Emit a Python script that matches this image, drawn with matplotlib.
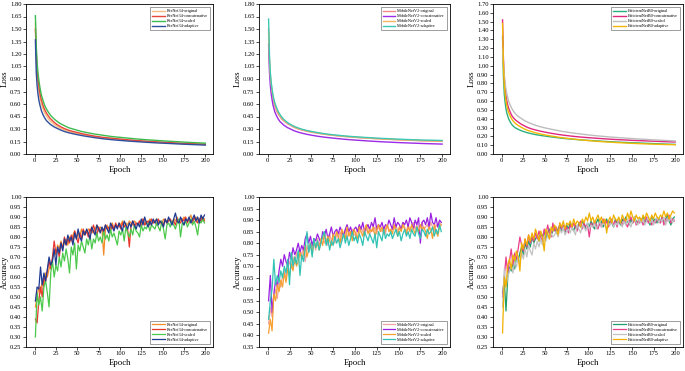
import numpy as np
import matplotlib
matplotlib.use("Agg")
import matplotlib.pyplot as plt

plt.rcParams['font.family'] = ['Liberation Serif', 'DejaVu Serif']

# ---------------- data ----------------
loss_epochs = [1, 2, 3, 4, 5, 6, 7, 8, 10, 12, 14, 16, 18, 20, 23, 26, 30, 35, 40, 45,
               50, 55, 60, 65, 70, 80, 90, 100, 110, 120, 130, 140, 150, 160, 170, 180, 190, 200]
acc_epochs = list(range(1, 200, 2))

labels_resnet = ["ResNet34-original", "ResNet34-concatenative", "ResNet34-scaled", "ResNet34-adaptive"]
labels_mobile = ["MobileNetV2-original", "MobileNetV2-concatenative", "MobileNetV2-scaled", "MobileNetV2-adaptive"]
labels_effnet = ["EfficientNetB0-original", "EfficientNetB0-concatenative", "EfficientNetB0-scaled", "EfficientNetB0-adaptive"]

# ResNet34 loss
resnet_loss_original = [1.57, 1.15, 0.95, 0.84, 0.76, 0.69, 0.64, 0.60, 0.54, 0.49, 0.455, 0.425, 0.40, 0.38, 0.355, 0.335, 0.31, 0.29, 0.27, 0.255,
                        0.245, 0.235, 0.225, 0.215, 0.205, 0.19, 0.18, 0.17, 0.16, 0.155, 0.148, 0.14, 0.135, 0.13, 0.125, 0.12, 0.117, 0.113]
resnet_loss_concat = [1.50, 1.22, 1.03, 0.91, 0.82, 0.75, 0.69, 0.65, 0.58, 0.53, 0.49, 0.46, 0.43, 0.41, 0.38, 0.355, 0.33, 0.305, 0.285, 0.27,
                      0.258, 0.245, 0.235, 0.225, 0.215, 0.20, 0.19, 0.18, 0.17, 0.162, 0.155, 0.148, 0.142, 0.136, 0.13, 0.126, 0.122, 0.118]
resnet_loss_scaled = [1.66, 1.30, 1.10, 0.98, 0.89, 0.82, 0.76, 0.71, 0.64, 0.58, 0.54, 0.505, 0.475, 0.45, 0.42, 0.395, 0.365, 0.34, 0.315, 0.30,
                      0.285, 0.27, 0.26, 0.25, 0.24, 0.225, 0.21, 0.20, 0.19, 0.18, 0.172, 0.165, 0.158, 0.152, 0.146, 0.14, 0.135, 0.13]
resnet_loss_adaptive = [1.37, 0.98, 0.82, 0.72, 0.65, 0.60, 0.56, 0.52, 0.47, 0.43, 0.40, 0.38, 0.36, 0.345, 0.325, 0.31, 0.29, 0.27, 0.255, 0.243,
                        0.232, 0.222, 0.213, 0.205, 0.197, 0.183, 0.172, 0.163, 0.155, 0.148, 0.141, 0.135, 0.13, 0.125, 0.12, 0.115, 0.111, 0.107]

# MobileNetV2 loss
mobile_loss_original = [1.50, 1.10, 0.92, 0.81, 0.73, 0.67, 0.62, 0.58, 0.52, 0.48, 0.45, 0.42, 0.40, 0.385, 0.36, 0.345, 0.32, 0.30, 0.285, 0.272,
                        0.262, 0.253, 0.245, 0.237, 0.23, 0.218, 0.208, 0.20, 0.192, 0.186, 0.18, 0.175, 0.17, 0.166, 0.162, 0.158, 0.155, 0.152]
mobile_loss_concat = [1.32, 0.98, 0.82, 0.72, 0.65, 0.59, 0.55, 0.51, 0.46, 0.42, 0.39, 0.37, 0.35, 0.335, 0.315, 0.30, 0.28, 0.262, 0.248, 0.236,
                      0.226, 0.217, 0.209, 0.202, 0.196, 0.185, 0.175, 0.167, 0.16, 0.153, 0.147, 0.142, 0.137, 0.133, 0.129, 0.125, 0.122, 0.119]
mobile_loss_scaled = [1.45, 1.12, 0.94, 0.83, 0.75, 0.69, 0.64, 0.60, 0.54, 0.495, 0.46, 0.435, 0.41, 0.39, 0.37, 0.35, 0.328, 0.307, 0.29, 0.277,
                      0.266, 0.256, 0.247, 0.239, 0.232, 0.22, 0.21, 0.202, 0.195, 0.188, 0.182, 0.177, 0.172, 0.167, 0.163, 0.159, 0.156, 0.153]
mobile_loss_adaptive = [1.62, 1.18, 0.98, 0.86, 0.78, 0.71, 0.66, 0.62, 0.56, 0.51, 0.475, 0.445, 0.42, 0.40, 0.375, 0.355, 0.333, 0.312, 0.295, 0.282,
                        0.271, 0.261, 0.252, 0.244, 0.237, 0.225, 0.215, 0.207, 0.2, 0.194, 0.188, 0.183, 0.178, 0.174, 0.17, 0.167, 0.165, 0.162]

# EfficientNetB0 loss
effnet_loss_original = [1.33, 0.88, 0.68, 0.58, 0.51, 0.46, 0.43, 0.40, 0.36, 0.33, 0.31, 0.295, 0.285, 0.275, 0.262, 0.252, 0.24, 0.228, 0.218, 0.21,
                        0.203, 0.196, 0.19, 0.184, 0.178, 0.169, 0.161, 0.154, 0.148, 0.142, 0.137, 0.132, 0.128, 0.124, 0.12, 0.116, 0.112, 0.109]
effnet_loss_concat = [1.52, 1.08, 0.86, 0.74, 0.66, 0.60, 0.555, 0.52, 0.47, 0.43, 0.405, 0.385, 0.37, 0.355, 0.335, 0.32, 0.30, 0.283, 0.27, 0.258,
                      0.248, 0.238, 0.23, 0.222, 0.215, 0.203, 0.193, 0.185, 0.178, 0.171, 0.165, 0.16, 0.155, 0.151, 0.147, 0.143, 0.139, 0.136]
effnet_loss_scaled = [1.20, 1.05, 0.90, 0.80, 0.73, 0.68, 0.64, 0.60, 0.55, 0.51, 0.48, 0.455, 0.435, 0.42, 0.40, 0.38, 0.36, 0.34, 0.322, 0.308,
                      0.296, 0.285, 0.275, 0.265, 0.256, 0.241, 0.228, 0.216, 0.206, 0.197, 0.189, 0.182, 0.175, 0.169, 0.163, 0.158, 0.153, 0.148]
effnet_loss_adaptive = [1.48, 1.00, 0.79, 0.68, 0.60, 0.545, 0.505, 0.47, 0.425, 0.39, 0.365, 0.345, 0.33, 0.318, 0.30, 0.285, 0.268, 0.252, 0.238, 0.226,
                        0.216, 0.207, 0.199, 0.191, 0.184, 0.172, 0.161, 0.152, 0.144, 0.137, 0.131, 0.126, 0.121, 0.117, 0.113, 0.11, 0.107, 0.105]

# ResNet34 accuracy (epochs 1,3,...,199)
resnet_acc_original = [0.45, 0.50, 0.55, 0.52, 0.58, 0.56, 0.62, 0.60, 0.64, 0.66,
                       0.69, 0.73, 0.71, 0.76, 0.74, 0.78, 0.75, 0.77, 0.79, 0.76,
                       0.80, 0.78, 0.81, 0.83, 0.79, 0.82, 0.80, 0.84, 0.81, 0.83,
                       0.82, 0.84, 0.83, 0.85, 0.82, 0.84, 0.86, 0.83, 0.85, 0.84,
                       0.71, 0.84, 0.86, 0.83, 0.85, 0.87, 0.84, 0.86, 0.85, 0.87,
                       0.86, 0.88, 0.85, 0.87, 0.86, 0.88, 0.87, 0.86, 0.88, 0.87,
                       0.86, 0.88, 0.87, 0.89, 0.86, 0.88, 0.87, 0.89, 0.88, 0.87,
                       0.88, 0.89, 0.87, 0.88, 0.86, 0.89, 0.88, 0.87, 0.89, 0.88,
                       0.87, 0.89, 0.88, 0.90, 0.87, 0.89, 0.88, 0.90, 0.89, 0.88,
                       0.89, 0.91, 0.88, 0.89, 0.90, 0.88, 0.89, 0.90, 0.88, 0.89]
resnet_acc_concat = [0.39, 0.37, 0.48, 0.55, 0.50, 0.60, 0.58, 0.63, 0.68, 0.64,
                     0.70, 0.78, 0.72, 0.74, 0.70, 0.77, 0.74, 0.80, 0.76, 0.79,
                     0.77, 0.81, 0.78, 0.83, 0.80, 0.77, 0.82, 0.79, 0.84, 0.81,
                     0.83, 0.80, 0.84, 0.82, 0.86, 0.83, 0.81, 0.85, 0.83, 0.84,
                     0.82, 0.86, 0.84, 0.85, 0.83, 0.86, 0.84, 0.87, 0.85, 0.86,
                     0.84, 0.87, 0.85, 0.86, 0.84, 0.75, 0.86, 0.88, 0.85, 0.87,
                     0.86, 0.88, 0.85, 0.89, 0.86, 0.87, 0.88, 0.86, 0.89, 0.87,
                     0.88, 0.86, 0.89, 0.87, 0.88, 0.86, 0.89, 0.87, 0.88, 0.89,
                     0.87, 0.88, 0.86, 0.89, 0.88, 0.87, 0.89, 0.88, 0.90, 0.87,
                     0.89, 0.88, 0.87, 0.90, 0.88, 0.87, 0.89, 0.88, 0.90, 0.88]
resnet_acc_scaled = [0.30, 0.52, 0.46, 0.50, 0.43, 0.55, 0.58, 0.52, 0.45, 0.62,
                     0.68, 0.60, 0.66, 0.63, 0.70, 0.65, 0.72, 0.68, 0.74, 0.69,
                     0.62, 0.75, 0.71, 0.77, 0.64, 0.76, 0.73, 0.78, 0.75, 0.72,
                     0.79, 0.76, 0.81, 0.74, 0.79, 0.77, 0.82, 0.78, 0.80, 0.77,
                     0.83, 0.79, 0.81, 0.78, 0.84, 0.80, 0.82, 0.79, 0.76, 0.83,
                     0.81, 0.84, 0.78, 0.85, 0.82, 0.80, 0.84, 0.81, 0.86, 0.83,
                     0.82, 0.80, 0.86, 0.83, 0.85, 0.84, 0.87, 0.83, 0.86, 0.85,
                     0.84, 0.87, 0.85, 0.83, 0.88, 0.84, 0.79, 0.86, 0.87, 0.85,
                     0.88, 0.86, 0.84, 0.87, 0.89, 0.80, 0.87, 0.86, 0.88, 0.85,
                     0.87, 0.89, 0.86, 0.88, 0.85, 0.81, 0.88, 0.87, 0.89, 0.87]
resnet_acc_adaptive = [0.48, 0.55, 0.54, 0.65, 0.56, 0.62, 0.58, 0.64, 0.70, 0.66,
                       0.68, 0.74, 0.66, 0.75, 0.72, 0.77, 0.73, 0.79, 0.76, 0.81,
                       0.78, 0.80, 0.76, 0.82, 0.79, 0.84, 0.80, 0.78, 0.83, 0.81,
                       0.84, 0.82, 0.79, 0.85, 0.83, 0.81, 0.86, 0.84, 0.82, 0.85,
                       0.83, 0.86, 0.84, 0.82, 0.87, 0.85, 0.83, 0.86, 0.84, 0.87,
                       0.85, 0.83, 0.88, 0.86, 0.84, 0.87, 0.85, 0.88, 0.86, 0.84,
                       0.87, 0.85, 0.89, 0.86, 0.90, 0.87, 0.85, 0.88, 0.86, 0.89,
                       0.87, 0.89, 0.86, 0.88, 0.87, 0.85, 0.89, 0.87, 0.90, 0.88,
                       0.86, 0.89, 0.92, 0.88, 0.87, 0.90, 0.88, 0.86, 0.89, 0.88,
                       0.90, 0.87, 0.89, 0.91, 0.88, 0.90, 0.87, 0.91, 0.89, 0.91]

# MobileNetV2 accuracy
mobile_acc_original = [0.45, 0.52, 0.48, 0.57, 0.60, 0.56, 0.63, 0.61, 0.66, 0.68,
                       0.65, 0.70, 0.72, 0.69, 0.74, 0.71, 0.76, 0.73, 0.77, 0.75,
                       0.78, 0.72, 0.79, 0.76, 0.80, 0.78, 0.81, 0.77, 0.82, 0.79,
                       0.81, 0.83, 0.80, 0.82, 0.79, 0.84, 0.81, 0.83, 0.80, 0.84,
                       0.82, 0.85, 0.81, 0.84, 0.86, 0.82, 0.85, 0.83, 0.86, 0.84,
                       0.83, 0.86, 0.84, 0.87, 0.85, 0.83, 0.86, 0.88, 0.84, 0.86,
                       0.85, 0.87, 0.84, 0.88, 0.86, 0.85, 0.87, 0.84, 0.88, 0.86,
                       0.85, 0.87, 0.86, 0.88, 0.85, 0.87, 0.86, 0.89, 0.87, 0.85,
                       0.88, 0.86, 0.87, 0.89, 0.86, 0.88, 0.85, 0.87, 0.89, 0.86,
                       0.87, 0.88, 0.86, 0.89, 0.87, 0.85, 0.88, 0.87, 0.89, 0.88]
mobile_acc_concat = [0.55, 0.66, 0.50, 0.58, 0.64, 0.61, 0.68, 0.73, 0.70, 0.75,
                     0.72, 0.70, 0.76, 0.73, 0.78, 0.75, 0.77, 0.80, 0.76, 0.79,
                     0.77, 0.82, 0.84, 0.80, 0.83, 0.79, 0.82, 0.81, 0.84, 0.82,
                     0.80, 0.85, 0.83, 0.86, 0.82, 0.84, 0.87, 0.83, 0.85, 0.86,
                     0.84, 0.87, 0.85, 0.83, 0.86, 0.88, 0.85, 0.87, 0.84, 0.86,
                     0.87, 0.85, 0.88, 0.86, 0.89, 0.85, 0.87, 0.88, 0.86, 0.89,
                     0.87, 0.91, 0.86, 0.88, 0.87, 0.89, 0.86, 0.88, 0.87, 0.90,
                     0.88, 0.86, 0.91, 0.87, 0.89, 0.88, 0.86, 0.89, 0.88, 0.90,
                     0.87, 0.91, 0.89, 0.86, 0.90, 0.88, 0.91, 0.80, 0.89, 0.90,
                     0.88, 0.91, 0.87, 0.93, 0.89, 0.88, 0.91, 0.87, 0.90, 0.89]
mobile_acc_scaled = [0.41, 0.47, 0.42, 0.58, 0.55, 0.62, 0.59, 0.64, 0.61, 0.67,
                     0.63, 0.69, 0.66, 0.71, 0.68, 0.74, 0.70, 0.72, 0.76, 0.73,
                     0.75, 0.79, 0.74, 0.77, 0.80, 0.75, 0.81, 0.78, 0.80, 0.77,
                     0.82, 0.79, 0.84, 0.80, 0.83, 0.81, 0.79, 0.84, 0.82, 0.85,
                     0.83, 0.80, 0.86, 0.84, 0.82, 0.87, 0.83, 0.85, 0.81, 0.86,
                     0.84, 0.82, 0.87, 0.85, 0.83, 0.86, 0.88, 0.84, 0.86, 0.85,
                     0.87, 0.83, 0.86, 0.88, 0.85, 0.87, 0.84, 0.86, 0.88, 0.85,
                     0.86, 0.84, 0.88, 0.86, 0.83, 0.87, 0.85, 0.88, 0.86, 0.84,
                     0.87, 0.85, 0.88, 0.86, 0.84, 0.87, 0.85, 0.88, 0.86, 0.87,
                     0.85, 0.82, 0.87, 0.86, 0.82, 0.88, 0.85, 0.83, 0.87, 0.88]
mobile_acc_adaptive = [0.47, 0.55, 0.60, 0.73, 0.62, 0.66, 0.63, 0.68, 0.65, 0.70,
                       0.67, 0.73, 0.62, 0.76, 0.70, 0.74, 0.71, 0.77, 0.66, 0.75,
                       0.72, 0.78, 0.85, 0.76, 0.80, 0.74, 0.82, 0.78, 0.81, 0.77,
                       0.80, 0.83, 0.85, 0.79, 0.82, 0.77, 0.81, 0.79, 0.83, 0.80,
                       0.82, 0.78, 0.81, 0.84, 0.80, 0.83, 0.79, 0.82, 0.85, 0.81,
                       0.83, 0.80, 0.84, 0.82, 0.79, 0.85, 0.83, 0.81, 0.84, 0.82,
                       0.80, 0.84, 0.78, 0.85, 0.83, 0.81, 0.86, 0.82, 0.84, 0.83,
                       0.85, 0.82, 0.84, 0.86, 0.83, 0.85, 0.81, 0.84, 0.86, 0.83,
                       0.85, 0.82, 0.86, 0.84, 0.83, 0.87, 0.84, 0.82, 0.86, 0.85,
                       0.83, 0.86, 0.84, 0.85, 0.87, 0.83, 0.86, 0.84, 0.88, 0.85]

# EfficientNetB0 accuracy
effnet_acc_original = [0.52, 0.58, 0.43, 0.60, 0.65, 0.63, 0.67, 0.64, 0.70, 0.68,
                       0.72, 0.75, 0.71, 0.77, 0.74, 0.78, 0.75, 0.80, 0.77, 0.79,
                       0.81, 0.78, 0.82, 0.80, 0.83, 0.79, 0.82, 0.84, 0.81, 0.83,
                       0.85, 0.82, 0.84, 0.86, 0.83, 0.85, 0.82, 0.86, 0.84, 0.87,
                       0.85, 0.83, 0.86, 0.84, 0.87, 0.85, 0.88, 0.86, 0.84, 0.87,
                       0.85, 0.88, 0.86, 0.84, 0.87, 0.89, 0.86, 0.88, 0.85, 0.87,
                       0.89, 0.86, 0.88, 0.87, 0.85, 0.89, 0.87, 0.88, 0.86, 0.89,
                       0.87, 0.90, 0.88, 0.86, 0.89, 0.87, 0.90, 0.88, 0.87, 0.89,
                       0.88, 0.90, 0.87, 0.89, 0.88, 0.86, 0.90, 0.88, 0.89, 0.87,
                       0.89, 0.88, 0.90, 0.87, 0.89, 0.91, 0.88, 0.86, 0.89, 0.90]
effnet_acc_concat = [0.50, 0.60, 0.70, 0.62, 0.68, 0.74, 0.66, 0.72, 0.69, 0.74,
                     0.80, 0.76, 0.73, 0.79, 0.75, 0.81, 0.77, 0.80, 0.78, 0.82,
                     0.79, 0.83, 0.80, 0.78, 0.84, 0.81, 0.86, 0.82, 0.80, 0.87,
                     0.83, 0.85, 0.81, 0.87, 0.84, 0.86, 0.83, 0.85, 0.82, 0.86,
                     0.84, 0.87, 0.85, 0.83, 0.86, 0.88, 0.84, 0.87, 0.85, 0.86,
                     0.80, 0.87, 0.85, 0.88, 0.86, 0.84, 0.87, 0.85, 0.89, 0.86,
                     0.88, 0.85, 0.87, 0.89, 0.86, 0.88, 0.85, 0.89, 0.87, 0.86,
                     0.89, 0.87, 0.85, 0.88, 0.90, 0.87, 0.89, 0.86, 0.88, 0.87,
                     0.89, 0.86, 0.88, 0.90, 0.87, 0.89, 0.86, 0.88, 0.87, 0.89,
                     0.88, 0.87, 0.90, 0.86, 0.89, 0.88, 0.91, 0.87, 0.89, 0.88]
effnet_acc_scaled = [0.45, 0.64, 0.55, 0.60, 0.63, 0.66, 0.62, 0.68, 0.65, 0.70,
                     0.67, 0.72, 0.69, 0.74, 0.70, 0.76, 0.73, 0.71, 0.77, 0.74,
                     0.78, 0.75, 0.79, 0.76, 0.80, 0.78, 0.81, 0.79, 0.82, 0.80,
                     0.81, 0.83, 0.80, 0.84, 0.82, 0.85, 0.81, 0.83, 0.84, 0.82,
                     0.85, 0.83, 0.81, 0.86, 0.84, 0.82, 0.86, 0.85, 0.83, 0.87,
                     0.84, 0.86, 0.85, 0.87, 0.84, 0.86, 0.88, 0.85, 0.87, 0.86,
                     0.84, 0.87, 0.86, 0.88, 0.85, 0.87, 0.86, 0.89, 0.87, 0.85,
                     0.88, 0.86, 0.89, 0.87, 0.85, 0.88, 0.90, 0.87, 0.86, 0.89,
                     0.87, 0.89, 0.86, 0.88, 0.90, 0.87, 0.89, 0.86, 0.88, 0.90,
                     0.87, 0.89, 0.88, 0.90, 0.86, 0.89, 0.88, 0.90, 0.87, 0.89]
effnet_acc_adaptive = [0.32, 0.60, 0.55, 0.66, 0.69, 0.64, 0.71, 0.68, 0.73, 0.70,
                       0.63, 0.77, 0.74, 0.79, 0.76, 0.81, 0.78, 0.82, 0.79, 0.84,
                       0.81, 0.78, 0.83, 0.80, 0.73, 0.84, 0.82, 0.79, 0.85, 0.83,
                       0.86, 0.84, 0.81, 0.87, 0.85, 0.88, 0.84, 0.87, 0.86, 0.88,
                       0.85, 0.89, 0.86, 0.88, 0.87, 0.85, 0.89, 0.87, 0.90, 0.88,
                       0.92, 0.88, 0.90, 0.87, 0.89, 0.91, 0.88, 0.90, 0.87, 0.89,
                       0.82, 0.88, 0.90, 0.87, 0.91, 0.89, 0.88, 0.90, 0.87, 0.91,
                       0.89, 0.88, 0.92, 0.89, 0.93, 0.90, 0.88, 0.91, 0.89, 0.90,
                       0.88, 0.91, 0.89, 0.92, 0.90, 0.88, 0.91, 0.89, 0.92, 0.90,
                       0.89, 0.91, 0.90, 0.93, 0.90, 0.92, 0.89, 0.91, 0.93, 0.92]

# ---------------- styling ----------------
colors_resnet_loss = ["#F6BE82", "#E8463A", "#3DBB4E", "#2E4E9E"]
colors_mobile_loss = ["#F28A8A", "#9A2BE6", "#F5B468", "#3CC8B4"]
colors_effnet_loss = ["#2DB07F", "#E0287E", "#BDBDBD", "#F2B705"]
colors_resnet_acc = ["#F28C28", "#E8382E", "#4CC94C", "#1F3A93"]
colors_mobile_acc = ["#F4A3A3", "#9A1FE0", "#F5A030", "#30C3B3"]
colors_effnet_acc = ["#1E9E6A", "#E83E8C", "#C2C2C2", "#F0B000"]

W, H = 685, 371
fig = plt.figure(figsize=(W / 100, H / 100), dpi=100)

cols_px = [(26, 213), (259, 450), (493, 683)]
top_row_px = (4, 154)
bot_row_px = (197, 347)


def make_ax(col, row):
    x0, x1 = cols_px[col]
    y0, y1 = row
    return fig.add_axes([x0 / W, 1 - y1 / H, (x1 - x0) / W, (y1 - y0) / H])


def style(ax, ylim, yticks, ylabel):
    ax.set_xlim(-10, 209)
    ax.set_ylim(*ylim)
    ax.set_xticks([0, 25, 50, 75, 100, 125, 150, 175, 200])
    ax.set_yticks(yticks)
    ax.set_yticklabels([f"{v:.2f}" for v in yticks])
    ax.tick_params(axis='both', labelsize=4.7, length=2, width=0.5, pad=1.2, direction='out')
    for s in ax.spines.values():
        s.set_linewidth(0.6)
    ax.set_xlabel("Epoch", fontsize=6.3, labelpad=2)
    ax.set_ylabel(ylabel, fontsize=6.3, labelpad=1)


def legend(ax, loc):
    leg = ax.legend(loc=loc, fontsize=3.1, frameon=True, fancybox=False, edgecolor='#555555',
                    handlelength=3.0, handletextpad=0.4, borderpad=0.4, labelspacing=0.25,
                    borderaxespad=0.8)
    leg.get_frame().set_linewidth(0.5)


loss_panels = [
    (0, [resnet_loss_original, resnet_loss_concat, resnet_loss_scaled, resnet_loss_adaptive], labels_resnet, colors_resnet_loss, (0, 1.8), np.arange(0, 1.81, 0.15)),
    (1, [mobile_loss_original, mobile_loss_concat, mobile_loss_scaled, mobile_loss_adaptive], labels_mobile, colors_mobile_loss, (0, 1.8), np.arange(0, 1.81, 0.15)),
    (2, [effnet_loss_original, effnet_loss_concat, effnet_loss_scaled, effnet_loss_adaptive], labels_effnet, colors_effnet_loss, (0, 1.7), np.arange(0, 1.71, 0.10)),
]
for col, series, labs, cols, ylim, yt in loss_panels:
    ax = make_ax(col, top_row_px)
    for s, lab, c in zip(series, labs, cols):
        ax.plot(loss_epochs, s, color=c, lw=1.0, label=lab)
    style(ax, ylim, yt, "Loss")
    legend(ax, "upper right")

acc_panels = [
    (0, [resnet_acc_original, resnet_acc_concat, resnet_acc_scaled, resnet_acc_adaptive], labels_resnet, colors_resnet_acc, (0.25, 1.0), np.arange(0.25, 1.001, 0.05)),
    (1, [mobile_acc_original, mobile_acc_concat, mobile_acc_scaled, mobile_acc_adaptive], labels_mobile, colors_mobile_acc, (0.35, 1.0), np.arange(0.35, 1.001, 0.05)),
    (2, [effnet_acc_original, effnet_acc_concat, effnet_acc_scaled, effnet_acc_adaptive], labels_effnet, colors_effnet_acc, (0.25, 1.0), np.arange(0.25, 1.001, 0.05)),
]
for col, series, labs, cols, ylim, yt in acc_panels:
    ax = make_ax(col, bot_row_px)
    for s, lab, c in zip(series, labs, cols):
        ax.plot(acc_epochs, s, color=c, lw=0.9, label=lab)
    style(ax, ylim, yt, "Accuracy")
    legend(ax, "lower right")

fig.savefig("out.png", dpi=100)
